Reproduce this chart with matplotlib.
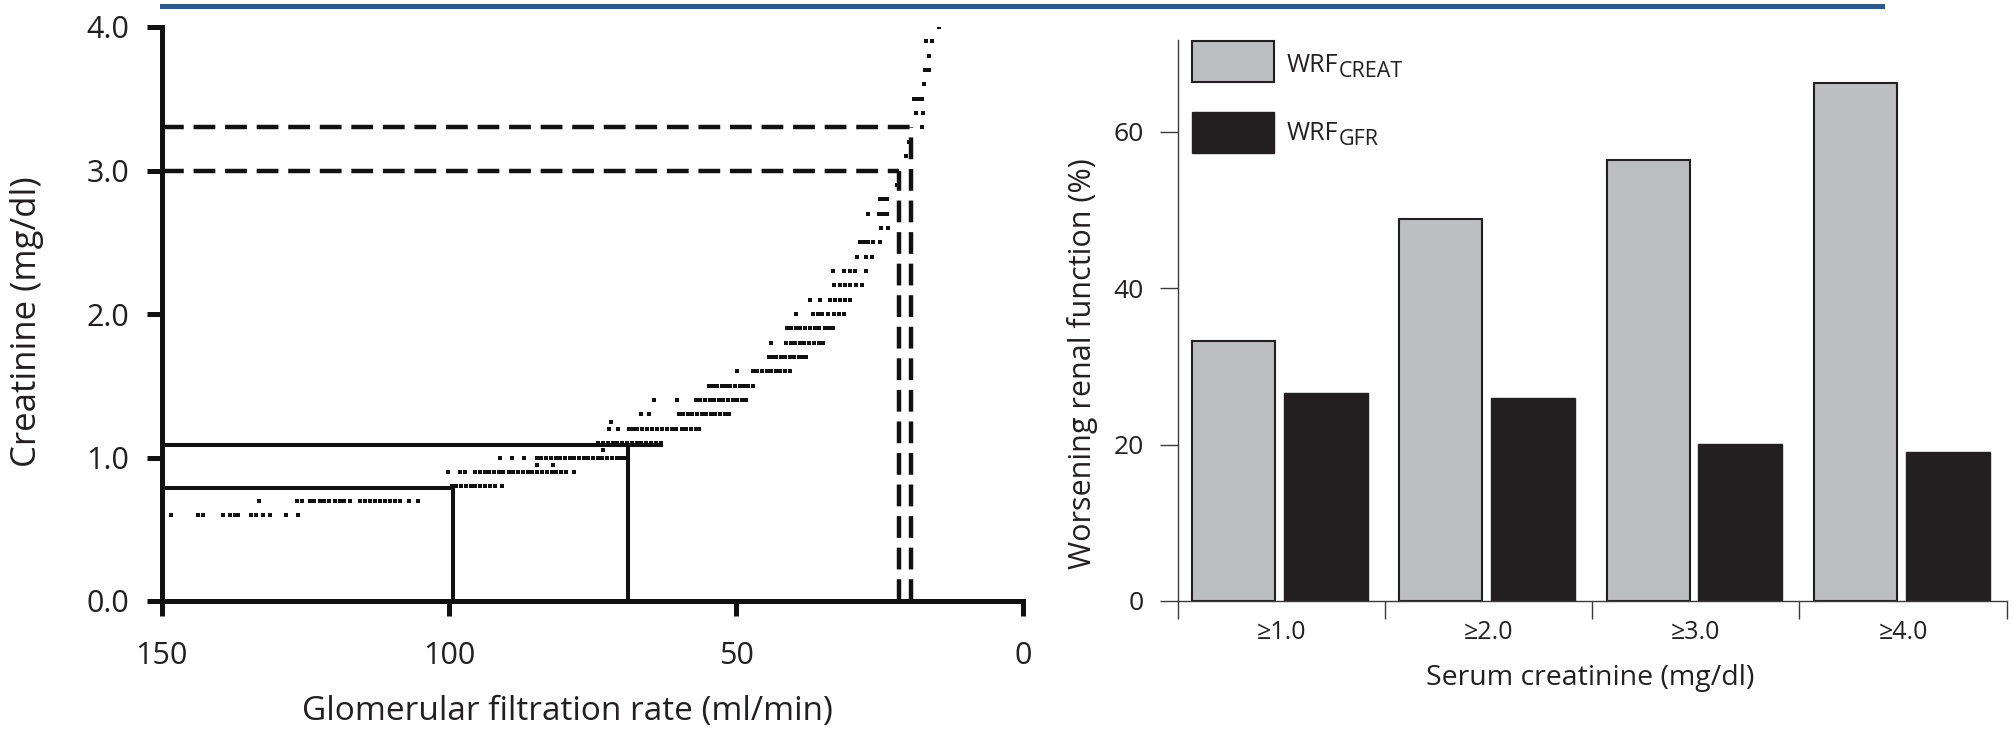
import numpy as np
import matplotlib
matplotlib.use('Agg')
import matplotlib.pyplot as plt
from matplotlib.lines import Line2D
from matplotlib.patches import Rectangle

plt.rcParams['font.family'] = ['Open Sans', 'DejaVu Sans']

# left panel: creatinine level (rows) and the GFR of each patient dot on that row
creat_levels = [0.6, 0.7, 0.8, 0.9, 0.95, 1.0, 1.05, 1.1, 1.2, 1.25, 1.3, 1.4, 1.5, 1.6, 1.7, 1.8, 1.9,
                2.0, 2.1, 2.2, 2.3, 2.4, 2.5, 2.6, 2.7, 2.8, 2.9, 3.1, 3.2, 3.3, 3.4, 3.5, 3.6,
                3.7, 3.8, 3.9, 4.0]
gfr_at_level = [
    [148.3, 143.7, 142.8, 139.3, 138.1, 137.3, 136.7, 134.4, 133.5, 132.4, 131.2, 128.3, 126.3],
    [133.0, 126.5, 125.6, 124.2, 123.4, 122.5, 121.7, 120.8, 119.9, 119.0, 118.2, 117.3, 115.5,
     114.6, 113.8, 112.9, 112.0, 111.2, 110.3, 109.4, 108.5, 107.0, 105.3],
    [99.5, 98.7, 97.9, 97.0, 96.2, 95.4, 94.5, 93.7, 92.8, 91.9, 90.8],
    [100.1, 98.1, 97.2, 95.5, 94.6, 93.8, 93.0, 92.1, 91.3, 90.5, 89.6, 88.8, 88.0, 87.1, 86.3,
     85.5, 84.6, 83.8, 83.0, 82.1, 81.3, 80.5, 79.6, 78.3],
    [84.7, 81.8],
    [91.1, 89.1, 87.0, 84.7, 83.9, 83.1, 82.3, 81.4, 80.6, 79.8, 79.0, 78.2, 77.4, 76.5, 75.7,
     74.9, 74.1, 73.3, 72.5, 71.6, 70.8, 70.0, 69.3],
    [73.1],
    [74.0, 73.2, 72.3, 71.5, 70.7, 69.8, 69.0, 68.2, 67.3, 66.5, 65.6, 64.8, 64.0, 63.1],
    [72.2, 70.5, 68.7, 68.0, 67.2, 66.3, 65.5, 64.6, 63.8, 62.9, 62.1, 61.2, 60.4, 59.5, 58.7,
     57.8, 57.0, 56.5],
    [71.7],
    [66.6, 65.2, 60.0, 59.2, 58.4, 57.6, 56.8, 56.0, 55.2, 54.4, 53.6, 52.8, 52.0, 51.2],
    [64.3, 60.3, 57.0, 56.2, 55.4, 54.6, 53.8, 53.0, 52.2, 51.4, 50.6, 49.8, 49.0, 48.3],
    [54.7, 54.1, 53.3, 52.5, 51.7, 51.0, 50.2, 49.4, 48.6, 47.9, 47.1],
    [49.8, 47.1, 46.3, 45.5, 44.7, 43.9, 43.1, 42.3, 41.5, 40.7],
    [44.2, 43.6, 43.0, 42.2, 41.4, 40.6, 39.9, 39.1, 38.4, 37.8],
    [44.0, 41.3, 40.5, 39.7, 38.9, 38.1, 37.3, 36.5, 35.6, 34.8],
    [41.2, 40.4, 39.6, 38.8, 38.0, 37.1, 36.3, 35.5, 34.6, 33.8, 33.1],
    [39.5, 36.6, 35.8, 35.0, 34.0, 33.0, 32.1, 31.3],
    [37.1, 35.4, 33.7, 32.8, 31.9, 31.1, 30.2],
    [33.0, 31.9, 31.1, 30.2, 29.2, 28.1],
    [33.1, 31.3, 30.2, 29.3, 27.3],
    [29.0, 27.3, 26.4],
    [28.4, 27.7, 27.0, 26.2, 25.0],
    [24.7, 23.5],
    [27.0, 25.2, 24.4, 23.7],
    [24.9, 24.3, 23.7],
    [22.0],
    [20.4],
    [19.9],
    [17.7],
    [18.6, 17.4],
    [19.1, 18.3, 17.7],
    [17.3],
    [17.1, 16.4],
    [16.4],
    [16.9, 15.9],
    [14.6],
]

# cut-off lines (solid) and WRF cut-off lines (dashed)
ref_creat = [0.79, 1.09]
ref_gfr = [99.3, 68.9]
ref_end = [99.3, 62.8]
dash_creat = [3.0, 3.3]
dash_gfr = [21.6, 19.6]

# right panel
groups = ['≥1.0', '≥2.0', '≥3.0', '≥4.0']
wrf_creat = [33.2, 48.8, 56.3, 66.2]
wrf_gfr = [26.6, 25.9, 20.1, 19.0]
legend_subs = ['CREAT', 'GFR']

ink = '#231f20'
grey = '#bcbec0'
W, H = 2014, 736
def box(l, t, r, b):
    return [l / W, 1 - b / H, (r - l) / W, (b - t) / H]

fig = plt.figure(figsize=(W / 100, H / 100), dpi=100)

# ---- left panel
ax1 = fig.add_axes(box(161.7, 27, 1023.3, 601))
for c, gs in zip(creat_levels, gfr_at_level):
    ax1.plot(gs, [c] * len(gs), 's', color='#111111', ms=2.3, mew=0)
for c, g, e in zip(ref_creat, ref_gfr, ref_end):
    ax1.plot([150, e], [c, c], color='#111111', lw=2.9, solid_capstyle='butt')
    ax1.plot([g, g], [0, c], color='#111111', lw=2.9, solid_capstyle='butt')
for c, g in zip(dash_creat, dash_gfr):
    ax1.plot([150, g], [c, c], color='#111111', lw=3.2, dashes=(4.9, 2.2))
    ax1.plot([g, g], [0, c], color='#111111', lw=3.2, dashes=(4.9, 2.2))
ax1.set_xlim(150, 0)
ax1.set_ylim(0, 4.0)
ax1.set_xticks([150, 100, 50, 0])
ax1.set_xticklabels(['150', '100', '50', '0'])
ax1.set_yticks([0, 1, 2, 3, 4])
ax1.set_yticklabels(['0.0', '1.0', '2.0', '3.0', '4.0'])
for s in ['top', 'right']:
    ax1.spines[s].set_visible(False)
for s in ['left', 'bottom']:
    ax1.spines[s].set_linewidth(3.6)
    ax1.spines[s].set_color('#111111')
ax1.tick_params(axis='both', width=3.6, length=10.5, color='#111111', labelsize=22, labelcolor=ink)
ax1.tick_params(axis='y', pad=13)
ax1.tick_params(axis='x', pad=18)

# ---- right panel
ax2 = fig.add_axes(box(1177.7, 40, 2006.7, 601))
x = np.arange(len(groups))
b1 = ax2.bar(x - 0.23, wrf_creat, width=0.40, color=grey, edgecolor=ink, lw=1.5)
b2 = ax2.bar(x + 0.215, wrf_gfr, width=0.405, color=ink, edgecolor=ink, lw=1)
ax2.set_xlim(-0.5, 3.5)
ax2.set_ylim(0, 71.7)
ax2.set_xticks(np.arange(len(groups) + 1) - 0.5)
ax2.set_xticklabels([])
ax2.set_xticks(x, minor=True)
ax2.set_xticklabels(groups, minor=True)
ax2.set_yticks([0, 20, 40, 60])
for s in ['top', 'right']:
    ax2.spines[s].set_visible(False)
for s in ['left', 'bottom']:
    ax2.spines[s].set_linewidth(1.0)
    ax2.spines[s].set_color('#3a3a3a')
ax2.tick_params(axis='both', which='major', width=1.0, length=13, color='#3a3a3a', labelcolor=ink)
ax2.tick_params(axis='y', labelsize=19, pad=11.5)
ax2.tick_params(axis='x', which='minor', length=0, labelsize=18, pad=14, labelcolor=ink)

# legend drawn by hand so the subscripts sit like the original
leg_boxes = [(0.9251, 0.0736, grey, 1.5), (0.7991, 0.0731, ink, 1.0)]
leg_base = [0.9435, 0.8217]
for (y0, h, fc, lw), yb, sub in zip(leg_boxes, leg_base, legend_subs):
    ax2.add_patch(Rectangle((0.0169, y0), 0.0996, h, transform=ax2.transAxes,
                            facecolor=fc, edgecolor=ink, lw=lw, clip_on=False))
    t = ax2.text(0.1315, yb, 'WRF', transform=ax2.transAxes, fontsize=18, color=ink,
                 va='baseline', ha='left')
    ax2.annotate(sub, xy=(1, 0), xycoords=t, xytext=(0.5, 0.5), textcoords='offset points',
                 fontsize=15.5, color=ink, va='baseline', ha='left')

# ---- labels and the blue rule on top
fig.text(27 / W, 1 - 322 / H, 'Creatinine (mg/dl)', rotation=90, ha='center', va='center',
         fontsize=25, color=ink)
fig.text(567 / W, 1 - 720 / H, 'Glomerular filtration rate (ml/min)', ha='center', va='baseline',
         fontsize=24, color=ink)
fig.text(1083 / W, 1 - 364 / H, 'Worsening renal function (%)', rotation=90, ha='center',
         va='center', fontsize=22, color=ink)
fig.text(1590 / W, 1 - 685 / H, 'Serum creatinine (mg/dl)', ha='center', va='baseline',
         fontsize=20.5, color=ink)
fig.add_artist(Line2D([162 / W, 1882 / W], [1 - 5.5 / H] * 2, color='#2c5a8c', lw=3.6))

fig.savefig('out.png', dpi=100)
